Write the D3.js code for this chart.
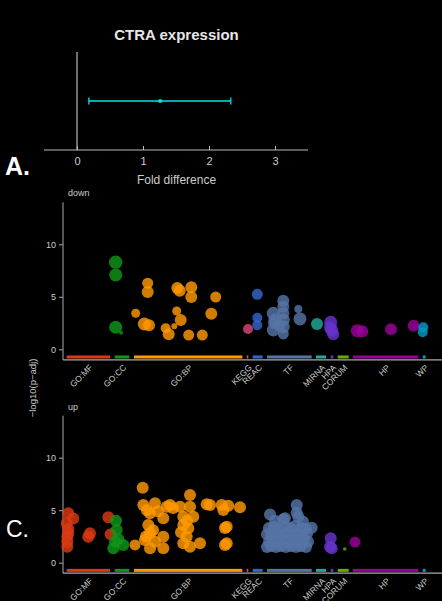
<!DOCTYPE html>
<html><head><meta charset="utf-8">
<script src="https://cdn.jsdelivr.net/npm/d3@7"></script>
<style>
html,body{margin:0;padding:0;background:#000;}
svg{display:block;font-family:"Liberation Sans",Arial,sans-serif;}
</style></head>
<body>
<div id="chart"></div>
<script>
// ---------- Panel A data ----------
const foldTicks = [0, 1, 2, 3];
const foldEstimate = [1.26];
const foldLower = [0.18];
const foldUpper = [2.33];

// ---------- Manhattan data ----------
const sources = ["GO:MF","GO:CC","GO:BP","KEGG","REAC","TF","MIRNA","HPA","CORUM","HP","WP"];
const sourceColors = ["#dc3912","#109618","#ff9900","#dd4477","#3366cc","#5574a6","#22aa99","#6633cc","#66aa00","#990099","#0099c6"];
const segStart = [3.7, 51.7, 71, 183.7, 189.7, 204, 253, 267.7, 274.7, 290, 359.7];
const segEnd   = [47, 66.3, 179.3, 185.3, 199.7, 248.7, 263, 270.3, 285.7, 355.3, 362.7];
const yTicks = [0, 5, 10];

// [source, position, -log10(p-adj), size]
const downTerms = [
 ["GO:CC",52.7,8.3,6.7],["GO:CC",52.7,7.08,6.5],["GO:CC",52.7,2.1,6.5],["GO:CC",58,1.58,2],
 ["GO:BP",84.7,6.29,5.5],["GO:BP",84.7,5.46,6],["GO:BP",72.7,3.43,4.5],["GO:BP",81.3,2.41,6.5],
 ["GO:BP",86,2.29,6],["GO:BP",102.7,2.0,5],["GO:BP",105.7,1.43,6],["GO:BP",111.3,2.19,3],
 ["GO:BP",113.7,3.65,4.5],["GO:BP",117.7,2.79,6],["GO:BP",114.3,5.84,6],["GO:BP",116.7,5.58,6],
 ["GO:BP",128.3,5.9,6],["GO:BP",128.3,4.98,6],["GO:BP",125.7,1.36,5.5],["GO:BP",139.3,1.36,5.5],
 ["GO:BP",148.3,3.39,6],["GO:BP",152.7,4.98,5.5],
 ["KEGG",185,1.93,5],
 ["REAC",194.3,5.24,5.5],["REAC",194.3,3.0,5],["REAC",194.3,2.3,5],
 ["TF",210.3,3.43,6.5],["TF",210.3,1.84,6.5],["TF",212,2.79,6.5],["TF",211,2.5,6],
 ["TF",220.3,4.63,6],["TF",220.3,4.06,6],["TF",220.3,3.43,6],["TF",220.3,2.79,6.5],
 ["TF",220.3,2.15,6.5],["TF",220.3,1.46,5.5],["TF",216,2.3,6],["TF",235.3,3.84,4],["TF",237,2.89,6.5],
 ["MIRNA",254,2.41,6],
 ["HPA",267.7,2.57,6.5],["HPA",267,2.1,6],["HPA",268.7,1.84,6.5],["HPA",270.3,1.43,6],
 ["HP",294.3,1.77,6.5],["HP",299.3,1.71,6],["HP",328,1.9,6],["HP",350.7,2.25,6],
 ["WP",360.3,2.1,5],["WP",359.7,1.62,5]
];

const upTerms = [
 ["GO:MF",5.3,4.7,6],["GO:MF",10.3,4.2,6],["GO:MF",3.7,3.75,6],["GO:MF",5.3,3.2,6],["GO:MF",5.3,2.8,6],
 ["GO:MF",4.3,2.48,6],["GO:MF",4.3,2.0,6],["GO:MF",4.3,1.52,6],["GO:MF",27,2.8,6],["GO:MF",25.3,2.48,6],
 ["GO:MF",45.3,4.32,6],["GO:MF",47.7,2.7,6],
 ["GO:CC",53,4.0,6],["GO:CC",53.7,3.11,6],["GO:CC",55.3,2.23,6],["GO:CC",52,2.0,6],["GO:CC",50.3,1.37,6],["GO:CC",60.3,1.69,6],
 ["GO:BP",79.7,7.14,6],["GO:BP",72,1.69,5.5],["GO:BP",80.3,5.5,6],["GO:BP",92,5.66,6],["GO:BP",103.7,5.33,6],
 ["GO:BP",107,5.5,6],["GO:BP",87,4.7,6],["GO:BP",100.3,4.23,6],["GO:BP",85.3,3.59,6],["GO:BP",87,2.8,6],
 ["GO:BP",82,2.16,6],["GO:BP",87,1.37,6],["GO:BP",100.3,2.48,6],["GO:BP",100.3,1.37,6],["GO:BP",117,5.33,6],
 ["GO:BP",127,6.45,6],["GO:BP",127,5.33,6],["GO:BP",120.3,4.38,6],["GO:BP",130.3,4.38,6],["GO:BP",120.3,3.59,6],
 ["GO:BP",125.3,3.27,6],["GO:BP",123.7,2.48,6],["GO:BP",120.3,1.85,6],["GO:BP",127,1.52,6],["GO:BP",137,1.85,6],
 ["GO:BP",143.7,5.56,6],["GO:BP",147,5.5,6],["GO:BP",158.7,5.5,6],["GO:BP",160.3,5.02,6],["GO:BP",165.3,5.43,6],
 ["GO:BP",177,5.28,6],["GO:BP",163.7,3.43,6],["GO:BP",162,3.3,6],["GO:BP",162,1.69,6],["GO:BP",163.7,1.85,6],
 ["GO:BP",84,5.0,6],["GO:BP",95,4.9,6],["GO:BP",90,3.1,6],["GO:BP",83,2.5,6],["GO:BP",92,2.0,6],["GO:BP",110,5.2,6],
 ["GO:BP",124,4.0,6],["GO:BP",118,2.9,6],
 ["TF",207,4.6,6],["TF",233.7,5.5,6],["TF",233.7,4.76,6],["TF",220.3,4.13,6],["TF",248.7,3.33,6],
 ["TF",235.3,4.38,6],["TF",222,4.23,6],["TF",212,4.0,6],["TF",240,3.9,6],
 ["TF",204,1.5,6],["TF",208,1.6,6],["TF",213,1.5,6],["TF",218,1.6,6],["TF",223,1.5,6],["TF",228,1.6,6],["TF",233,1.5,6],["TF",238,1.6,6],["TF",243,1.5,6],
 ["TF",206,2.0,6],["TF",210,2.2,6],["TF",216,2.0,6],["TF",221,2.2,6],["TF",226,2.0,6],["TF",231,2.2,6],["TF",236,2.0,6],["TF",241,2.2,6],["TF",245,2.0,6],
 ["TF",204,2.7,6],["TF",208,2.6,6],["TF",213,2.8,6],["TF",218,2.6,6],["TF",224,2.8,6],["TF",229,2.6,6],["TF",234,2.8,6],["TF",239,2.6,6],["TF",244,2.8,6],
 ["TF",206,3.3,6],["TF",211,3.4,6],["TF",216,3.2,6],["TF",222,3.4,6],["TF",227,3.3,6],["TF",232,3.5,6],["TF",238,3.3,6],["TF",243,3.2,6],
 ["HPA",267.7,2.32,6],["HPA",267,1.52,6],["HPA",268.7,1.37,6],
 ["CORUM",281.7,1.3,1.8],
 ["HP",292,1.97,5.5]
];

const W = 442, H = 601;
const svg = d3.select("#chart").append("svg").attr("width", W).attr("height", H)
  .style("background", "#000");

// ---------- Panel A ----------
const xA = d3.scaleLinear().domain([-0.5, 3.5]).range([44, 308]);
const axisYA = 150;
svg.append("text").attr("x", 176.5).attr("y", 40).attr("text-anchor", "middle")
  .attr("fill", "#e6e6e6").attr("font-size", 15).attr("font-weight", "bold").text("CTRA expression");
svg.append("line").attr("x1", xA(0)).attr("x2", xA(0)).attr("y1", 52).attr("y2", axisYA)
  .attr("stroke", "#dddddd").attr("stroke-width", 1);
const gA = svg.append("g").attr("transform", `translate(0,${axisYA})`)
  .call(d3.axisBottom(xA).tickValues(foldTicks).tickSize(-4).tickPadding(7).tickFormat(d3.format("d")));
gA.select(".domain").attr("stroke", "#bbbbbb").attr("d", `M${xA.range()[0]},0H${xA.range()[1]}`);
gA.selectAll(".tick line").attr("stroke", "#bbbbbb");
gA.selectAll(".tick text").attr("fill", "#cccccc").attr("font-size", 11).attr("font-family", "Liberation Sans, Arial, sans-serif");
svg.append("text").attr("x", 176.5).attr("y", 184).attr("text-anchor", "middle")
  .attr("fill", "#cccccc").attr("font-size", 12).text("Fold difference");
const yPoint = 101;
const cyan = "#00e5e5";
svg.append("line").attr("x1", xA(foldLower[0])).attr("x2", xA(foldUpper[0])).attr("y1", yPoint).attr("y2", yPoint)
  .attr("stroke", cyan).attr("stroke-width", 1.3);
[foldLower[0], foldUpper[0]].forEach(v => {
  svg.append("line").attr("x1", xA(v)).attr("x2", xA(v)).attr("y1", yPoint - 3.5).attr("y2", yPoint + 3.5)
    .attr("stroke", cyan).attr("stroke-width", 1.3);
});
svg.append("rect").attr("x", xA(foldEstimate[0]) - 1.7).attr("y", yPoint - 1.7).attr("width", 3.4).attr("height", 3.4).attr("fill", cyan);
svg.append("text").attr("x", 5).attr("y", 175).attr("fill", "#ffffff").attr("font-size", 25).attr("font-weight", "bold").text("A.");

// ---------- Manhattan panels ----------
const xM = d3.scaleLinear().domain([0, 379]).range([63, 442]);
const color = d3.scaleOrdinal().domain(sources).range(sourceColors);
const rScale = d3.scaleLinear().domain([0, 7]).range([0, 7]);

function manhattan(terms, top, label, labelY) {
  const bottom = top + 157.5;
  const y = d3.scaleLinear().domain([-1, 14]).range([bottom, top]);
  const g = svg.append("g");
  g.append("text").attr("x", 68).attr("y", labelY).attr("fill", "#cccccc").attr("font-size", 9).text(label);
  const gy = g.append("g").attr("transform", `translate(${xM(0)},0)`)
    .call(d3.axisLeft(y).tickValues(yTicks).tickSize(4).tickPadding(3));
  gy.select(".domain").attr("stroke", "#aaaaaa").attr("d", `M0,${bottom}V${top}`);
  gy.selectAll(".tick line").attr("stroke", "#aaaaaa");
  gy.selectAll(".tick text").attr("fill", "#cccccc").attr("font-size", 9).attr("font-family", "Liberation Sans, Arial, sans-serif");
  const mids = sources.map((s, i) => (segStart[i] + segEnd[i]) / 2);
  const gx = g.append("g").attr("transform", `translate(0,${bottom})`)
    .call(d3.axisBottom(xM).tickValues(mids).tickSize(0).tickFormat((d, i) => sources[i]));
  gx.select(".domain").attr("stroke", "#aaaaaa").attr("stroke-width", 1.2).attr("d", `M${xM(0)},0H${xM(379)}`);
  gx.selectAll(".tick text")
    .attr("fill", "#cccccc").attr("font-size", 8.5).attr("font-family", "Liberation Sans, Arial, sans-serif")
    .attr("text-anchor", "end").attr("y", 0).attr("dy", "0.72em")
    .attr("transform", "translate(0,4) rotate(-45)");
  g.selectAll("rect.seg").data(sources).enter().append("rect")
    .attr("x", (d, i) => xM(segStart[i])).attr("width", (d, i) => xM(segEnd[i]) - xM(segStart[i]))
    .attr("y", y(-0.73) - 1.5).attr("height", 3).attr("fill", d => color(d));
  g.selectAll("circle").data(terms).enter().append("circle")
    .attr("cx", d => xM(d[1])).attr("cy", d => y(d[2])).attr("r", d => rScale(d[3]))
    .attr("fill", d => color(d[0])).attr("fill-opacity", 0.82);
}
manhattan(downTerms, 202.3, "down", 196);
manhattan(upTerms, 415.7, "up", 410);

svg.append("text").attr("transform", "translate(36,388) rotate(-90)").attr("text-anchor", "middle")
  .attr("fill", "#cccccc").attr("font-size", 9.5).text("\u2212log10(p\u2212adj)");
svg.append("text").attr("x", 6).attr("y", 537).attr("fill", "#ffffff").attr("font-size", 23).text("C.");
</script>
</body></html>
